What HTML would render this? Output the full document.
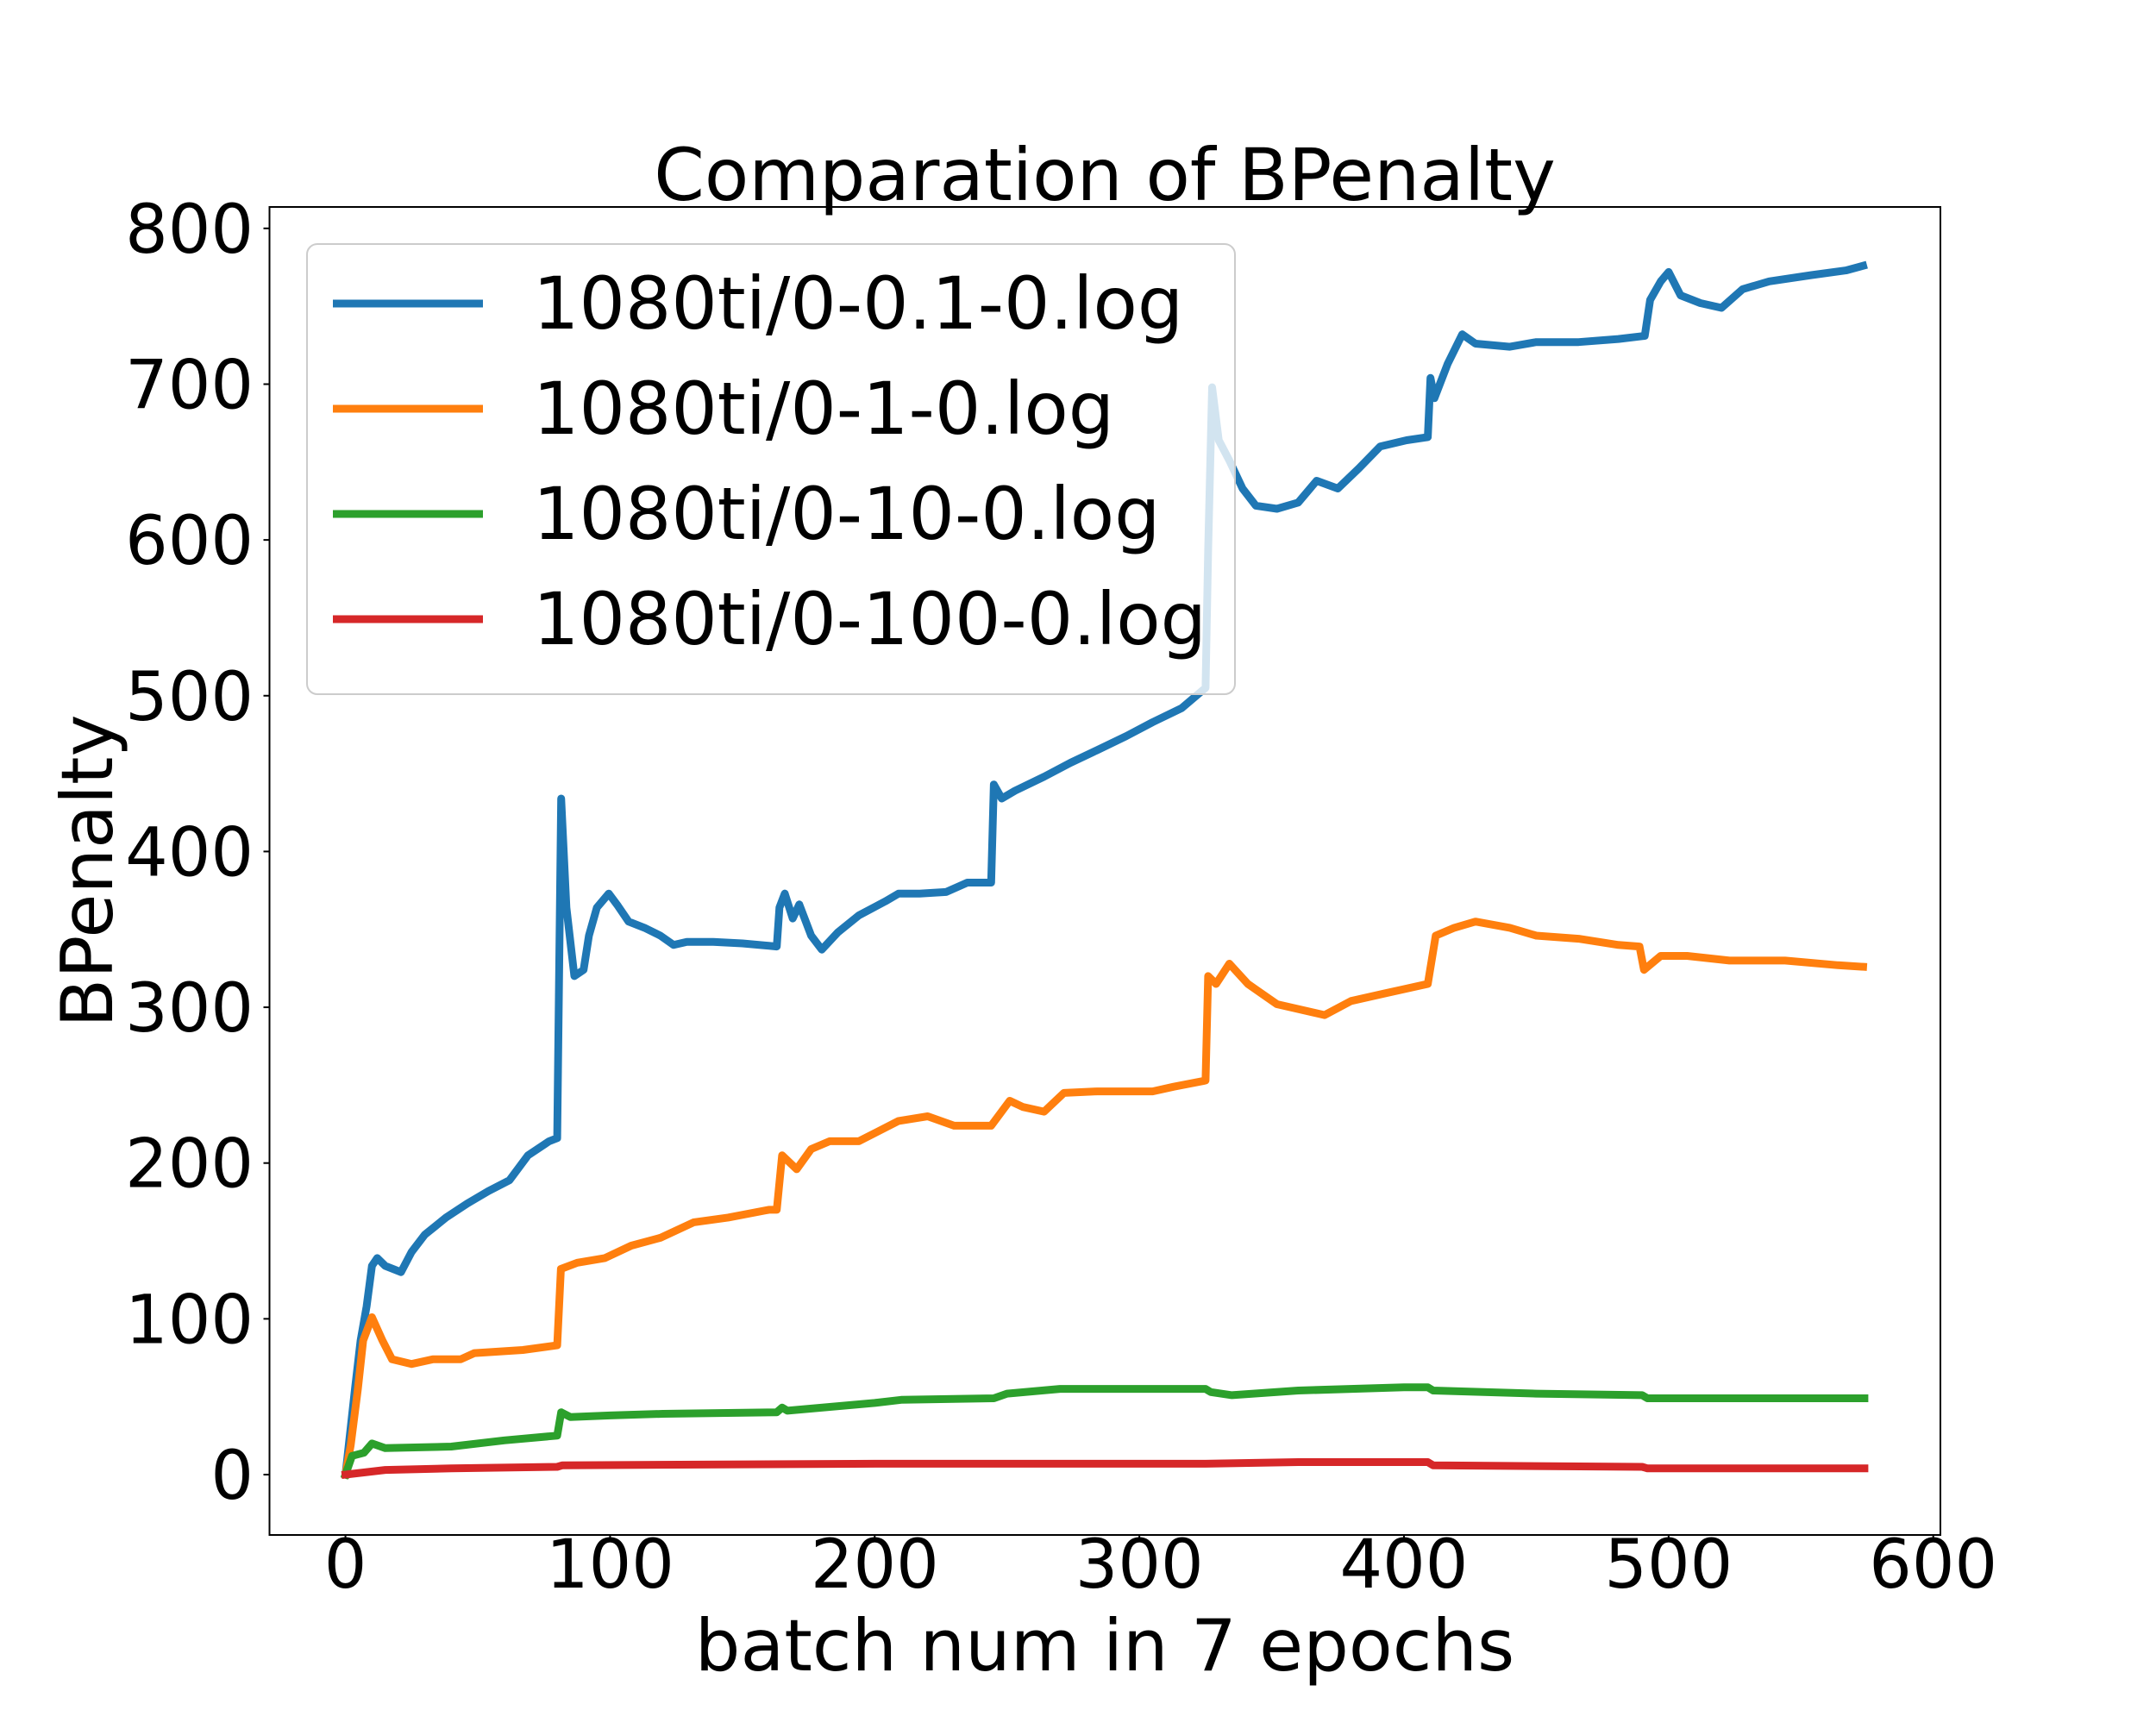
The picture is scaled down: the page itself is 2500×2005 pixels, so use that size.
<!DOCTYPE html>
<html><head><meta charset="utf-8"><style>
html,body{margin:0;padding:0;background:#fff;}
svg text{font-family:"DejaVu Sans","Liberation Sans",sans-serif;fill:#000;}
</style></head><body>
<svg id="chart" width="2500" height="2000" viewBox="0 0 2500 2000" xmlns="http://www.w3.org/2000/svg">
<rect width="2500" height="2000" fill="#fff"/>
<text x="1281" y="232" font-size="84" text-anchor="middle">Comparation of BPenalty</text>
<g id="plot"></g>
<g id="xticks"></g>
<g id="yticks"></g>
<rect x="312.5" y="240" width="1937.5" height="1540" fill="none" stroke="#000" stroke-width="2"/>
<text x="1281" y="1937" font-size="83" text-anchor="middle">batch num in 7 epochs</text>
<text transform="translate(130,1010) rotate(-90)" font-size="83" text-anchor="middle">BPenalty</text>
<g id="legend"></g>
</svg>
<script>
const xTicks=[0,100,200,300,400,500,600];
const yTicks=[0,100,200,300,400,500,600,700,800];
const seriesNames=["1080ti/0-0.1-0.log","1080ti/0-1-0.log","1080ti/0-10-0.log","1080ti/0-100-0.log"];
const seriesColors=["#1f77b4","#ff7f0e","#2ca02c","#d62728"];
const blueX=[0,3.6,5.7,8,10,12,15,21,25,30,38,46,54,62,69,77,80,81.5,83.5,86.5,90,92,95,99.5,103,107,113,119,124,129,139,150,163,164,166,169,171.5,176,180,186,194,204,209,217,227,235,244,245,248,253,264,274,284,295,305,316,325,326,327.5,330,334,339,344,352,360,367,375,383,391,401,409,410,411.5,416.5,422,427,440,450,466,481,491,493,497,500,504.5,512,520,528,538,554,567,573.5];
const blueY=[0,55,86,108,134,139,134,130,143,154,165,174,182,189,205,214,216,434,364,320,324,346,364,373,365,355,351,346,340,342,342,341,339,364,373,357,366,346,337,348,359,368,373,373,374,380,380,443,434,439,448,457,465,474,483,492,505,593,698,664,651,633,622,620,624,638,633,646,660,664,666,704,691,713,732,726,724,727,727,729,731,754,766,772,757,752,749,761,766,770,773,776];
const orangeX=[0,2,4.7,6.7,10,14,17.6,25,33,43.5,48.7,67,80,81.4,87.6,98,108,119,131.6,144.6,160,163,165,170.5,176,183,194,209,220,230,244,251,256,264,271.5,284,305,313,325,326,329,334,341,352,370,380,393,409,412,419,427,440,450,466,481,489,490.7,497,507,523,544,564,573.5];
const orangeY=[0,19,55,86,101,86,74,71,74,74,78,80,83,132,136,139,147,152,162,165,170,170,205,196,209,214,214,227,230,224,224,240,236,233,245,246,246,249,253,320,315,328,315,302,295,304,309,315,346,351,355,351,346,344,340,339,324,333,333,330,330,327,326];
const greenX=[0,2.5,7,10,15,40,60,80,81.5,85,100,120,163,165,167,200,210,245,250,270,290,325,327,335,360,400,409,411,450,490,492,574];
const greenY=[0,12,14,20,17,18,22,25,40,37,38,39,40,43,41,46,48,49,52,55,55,55,53,51,54,56,56,54,52,51,49,49];
const redX=[0,15,40,80,82,200,325,360,409,411,490,492,574];
const redY=[0,3,4,5,6,7,7,8,8,6,5,4,4];

const NS="http://www.w3.org/2000/svg";
const L=312.5,R=2250,T=240,B=1780;
const X0=-28.7,X1=602.7,Y0=-38.75,Y1=813.75;
function sx(v){return L+(v-X0)/(X1-X0)*(R-L);}
function sy(v){return B-(v-Y0)/(Y1-Y0)*(B-T);}
function mk(tag,attrs,parent){const e=document.createElementNS(NS,tag);for(const k in attrs)e.setAttribute(k,attrs[k]);parent.appendChild(e);return e;}

const plot=document.getElementById('plot');
const allX=[blueX,orangeX,greenX,redX],allY=[blueY,orangeY,greenY,redY];
const lineNames=['line-0-0.1-0','line-0-1-0','line-0-10-0','line-0-100-0'];
for(let s=0;s<4;s++){
  const d=allX[s].map((x,i)=>(i?'L':'M')+sx(x).toFixed(1)+' '+sy(allY[s][i]).toFixed(1)).join(' ');
  const p=mk('path',{d:d,fill:'none',stroke:seriesColors[s],'stroke-width':9,'stroke-linejoin':'round','stroke-linecap':'square'},plot);
  
  
}

const xg=document.getElementById('xticks');
xTicks.forEach(v=>{
  const t=mk('line',{x1:sx(v),x2:sx(v),y1:B,y2:B+7,stroke:'#000','stroke-width':2},xg);
  
  
  const l=mk('text',{x:sx(v),y:1841,'font-size':78,'text-anchor':'middle'},xg);
  l.textContent=v;
  
  
});
const yg=document.getElementById('yticks');
yTicks.forEach(v=>{
  const t=mk('line',{x1:L-7,x2:L,y1:sy(v),y2:sy(v),stroke:'#000','stroke-width':2},yg);
  
  
  const l=mk('text',{x:294,y:sy(v)+28,'font-size':78,'text-anchor':'end'},yg);
  l.textContent=v;
  
  
});

const lg=document.getElementById('legend');
const box=mk('rect',{x:356,y:283,width:1076,height:522,rx:12,fill:'#fff','fill-opacity':0.8,stroke:'#ccc','stroke-width':2},lg);


const rowY=[352,474,596,718];
seriesNames.forEach((n,i)=>{
  const ln=mk('line',{x1:386,x2:560,y1:rowY[i],y2:rowY[i],stroke:seriesColors[i],'stroke-width':9},lg);
  
  
  const tx=mk('text',{x:618,y:rowY[i]+29,'font-size':84},lg);
  tx.textContent=n;
  
  
});
</script>
</body></html>
